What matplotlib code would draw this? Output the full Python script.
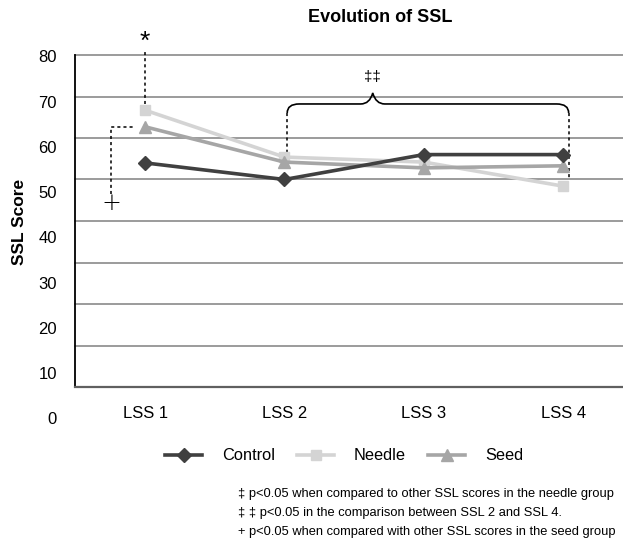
import matplotlib.pyplot as plt
import matplotlib.transforms as mtransforms
from matplotlib import font_manager
from matplotlib.path import Path
from matplotlib.patches import PathPatch

plt.rcParams['font.family'] = ['Liberation Sans', 'DejaVu Sans']

sessions = ['LSS 1', 'LSS 2', 'LSS 3', 'LSS 4']
control = [54.0, 50.0, 56.0, 56.0]
needle = [66.7, 55.4, 54.2, 48.4]
seed = [62.7, 54.2, 52.8, 53.3]
ytick_vals = [80, 70, 60, 50, 40, 30, 20, 10, 0]
notes = ['\u2021 p<0.05 when compared to other SSL scores in the needle group',
         '\u2021 \u2021 p<0.05 in the comparison between SSL 2 and SSL 4.',
         '+ p<0.05 when compared with other SSL scores in the seed group']

W, H = 623, 547
fig = plt.figure(figsize=(W / 100, H / 100), dpi=100)
ax = fig.add_axes([75 / W, 1 - 387 / H, (W - 75) / W, (387 - 55) / H])
# pixel coords measured from top-left of the figure
pix = mtransforms.Affine2D().scale(1, -1).translate(0, H)

x = list(range(len(sessions)))
ln_c, = ax.plot(x, control, color='#404040', lw=2.6, marker='D', ms=7.5, label='Control', zorder=5)
ln_n, = ax.plot(x, needle, color='#d4d4d4', lw=2.6, marker='s', ms=7, label='Needle', zorder=3)
ln_s, = ax.plot(x, seed, color='#a6a6a6', lw=2.6, marker='^', ms=8, label='Seed', zorder=4)

ax.set_xlim(-0.503, 3.43)
ax.set_ylim(0, 80)
for v in ytick_vals[:-1]:
    ax.axhline(v, color='#808080', lw=1.1, zorder=1, clip_on=False)

for s in ['top', 'right']:
    ax.spines[s].set_visible(False)
ax.spines['left'].set_color('black')
ax.spines['left'].set_linewidth(1.3)
ax.spines['bottom'].set_color('#606060')
ax.spines['bottom'].set_linewidth(1.6)

ax.set_xticks(x, sessions, fontsize=12)
ax.tick_params(axis='x', length=0, pad=14)
ax.set_yticks([])

# y labels drift a little from the grid in the original
ylab_tr = mtransforms.blended_transform_factory(ax.transAxes, ax.transData)
for v in ytick_vals:
    ax.text(-0.033, 80 - (80 - v) * 1.09 - 0.7, str(v), transform=ylab_tr,
            ha='right', va='center', fontsize=12, clip_on=False)

fig.text(20, 222, 'SSL Score', transform=pix, rotation=90, ha='center', va='center',
         fontsize=12.5, fontweight='bold')
fig.text(380, 18, 'Evolution of SSL', transform=pix, ha='center', va='center',
         fontsize=13, fontweight='bold')

# needle significance at LSS 1
ax.plot([0, 0], [needle[0] + 1.6, 80.8], color='black', lw=1.1, ls=(0, (2, 2)), clip_on=False)
ax.text(0, 83.2, '*', ha='center', va='center', fontsize=19, clip_on=False)

# seed significance at LSS 1
xs = -0.245
ax.plot([xs, xs, -0.08], [46.5, seed[0], seed[0]], color='black', lw=1.1, ls=(0, (2, 2)), clip_on=False)
ax.text(xs, 44.3, '+', ha='center', va='center', fontsize=17, fontweight='light',
        family='DejaVu Sans', clip_on=False)

# brace between LSS 2 and LSS 4
ax.plot([1.02, 1.02], [66.0, needle[1] + 1.2], color='black', lw=1.1, ls=(0, (2, 2)))
ax.plot([3.04, 3.04], [66.0, needle[3] + 2.0], color='black', lw=1.1, ls=(0, (2, 2)))
x1, ytop = ax.transData.transform((1.02, 68.2))
x2, _ = ax.transData.transform((3.04, 68.2))
xm = ax.transData.transform((2.0, 0))[0] - 51
yb = ytop - 9
verts = [(x1, yb), (x1, ytop), (x1 + 12, ytop), (xm - 12, ytop), (xm - 3, ytop), (xm, ytop + 11),
         (xm + 3, ytop), (xm + 12, ytop), (x2 - 12, ytop), (x2, ytop), (x2, yb)]
codes = [Path.MOVETO, Path.CURVE3, Path.CURVE3, Path.LINETO, Path.CURVE3, Path.CURVE3,
         Path.CURVE3, Path.CURVE3, Path.LINETO, Path.CURVE3, Path.CURVE3]
fig.add_artist(PathPatch(Path(verts, codes), transform=mtransforms.IdentityTransform(),
                         fill=False, lw=1.2, color='black'))
fig.text(xm, ytop + 27, '\u2021\u2021', transform=mtransforms.IdentityTransform(),
         ha='center', va='center', fontsize=11)

fig.legend(handles=[ln_c, ln_n, ln_s], loc='center left', bbox_to_anchor=(165 / W, 1 - 456 / H),
           ncol=3, frameon=False, fontsize=11.8, handlelength=2.26, handletextpad=1.22,
           columnspacing=1.34, borderpad=0, borderaxespad=0)

# footnotes use a narrow face if one is installed
names = {f.name for f in font_manager.fontManager.ttflist}
if 'Liberation Sans Narrow' in names:
    note_font, note_size = ['Liberation Sans Narrow', 'DejaVu Sans'], 11.3
else:
    note_font, note_size = ['Liberation Sans', 'DejaVu Sans'], 9.3
for i, t in enumerate(notes):
    fig.text(238, 494 + 19 * i, t, transform=pix, ha='left', va='center',
             fontsize=note_size, family=note_font)

fig.savefig('out.png', dpi=100)
